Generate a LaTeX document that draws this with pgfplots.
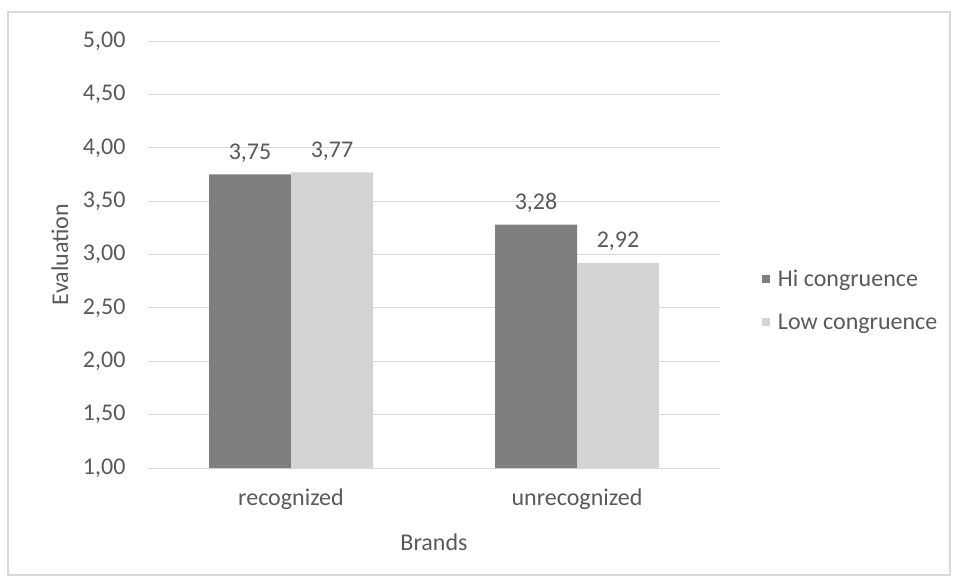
\documentclass[border=0pt]{standalone}
\usepackage{pgfplots}
\pgfplotsset{compat=1.18}
\usepackage{fontspec}
\setmainfont{Carlito}
\definecolor{txt}{HTML}{595959}
\definecolor{darkbar}{HTML}{7F7F7F}
\definecolor{lightbar}{HTML}{D4D4D4}
\definecolor{gridc}{HTML}{D9D9D9}
\begin{document}
\begin{tikzpicture}[x=1pt,y=1pt]
\path[use as bounding box] (0,0) rectangle (955,582);
\draw[gridc, line width=1.2pt] (8,7) rectangle (950,570);
\begin{axis}[
  at={(148pt,114pt)}, anchor=south west,
  scale only axis, width=572pt, height=427pt,
  ybar=0pt, bar width=82pt,
  xmin=-0.5, xmax=1.5, ymin=1, ymax=5,
  ytick={1,1.5,...,5}, xtick={0,1},
  xticklabels={recognized,unrecognized},
  axis line style={draw=none},
  major tick length=0pt,
  ymajorgrids, grid style={gridc, line width=1pt},
  /pgf/number format/assume math mode=true,
  /pgf/number format/use comma,
  /pgf/number format/fixed,
  /pgf/number format/fixed zerofill,
  /pgf/number format/precision=2,
  font=\fontsize{24}{28}\selectfont,
  tick label style={text=txt},
  yticklabel style={xshift=-19pt},
  xticklabel style={yshift=-17pt},
  ylabel={Evaluation}, xlabel={Brands},
  label style={text=txt},
  ylabel style={at={(axis description cs:-0.154,0.5)}, anchor=center},
  xlabel style={at={(axis description cs:0.5,-0.173)}, anchor=center},
  nodes near coords,
  nodes near coords style={text=txt, inner sep=12pt},
  legend style={draw=none, fill=none, at={(1.073,0.393)}, anchor=west,
    font=\fontsize{24}{28}\selectfont, text=txt, row sep=22pt, inner sep=0pt},
  legend cell align=left,
  legend image code/.code={\fill[#1] (0pt,-4pt) rectangle (8pt,4pt); \path (14pt,0pt);},
]
\addplot[fill=darkbar, draw=none] coordinates {(0,3.75) (1,3.28)};
\addplot[fill=lightbar, draw=none] coordinates {(0,3.77) (1,2.92)};
\legend{Hi congruence, Low congruence}
\end{axis}
\end{tikzpicture}
\end{document}
